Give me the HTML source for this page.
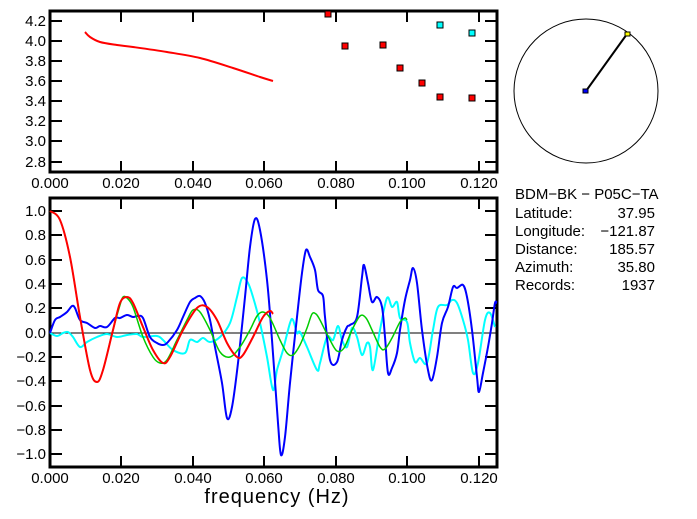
<!DOCTYPE html><html><head><style>body{margin:0;background:#fff}svg{display:block}text{font-family:"Liberation Sans",sans-serif;font-size:15px}</style></head><body>
<svg id="s" width="697" height="519" viewBox="0 0 697 519" xmlns="http://www.w3.org/2000/svg">
<g stroke="#000" stroke-width="3" fill="none">
<rect x="50" y="11" width="447" height="161"/>
<rect x="50" y="198" width="447" height="269"/>
</g>
<g stroke="#000" stroke-width="2">
<path d="M121,11v11M193,11v11M264,11v11M336,11v11M407,11v11M479,11v11M121,172v-11M193,172v-11M264,172v-11M336,172v-11M407,172v-11M479,172v-11"/>
<path d="M50,21h12M50,41h12M50,61h12M50,81h12M50,101h12M50,121h12M50,141h12M50,162h12M497,21h-12M497,41h-12M497,61h-12M497,81h-12M497,101h-12M497,121h-12M497,141h-12M497,162h-12"/>
<path d="M121,198v11M193,198v11M264,198v11M336,198v11M407,198v11M479,198v11M121,467v-11M193,467v-11M264,467v-11M336,467v-11M407,467v-11M479,467v-11"/>
<path d="M50,211h12M50,235h12M50,260h12M50,284h12M50,308h12M50,357h12M50,381h12M50,406h12M50,430h12M50,454h12M497,211h-12M497,235h-12M497,260h-12M497,284h-12M497,308h-12M497,357h-12M497,381h-12M497,406h-12M497,430h-12M497,454h-12"/>
</g>
<line x1="50" y1="333" x2="497" y2="333" stroke="#000" stroke-width="1"/>
<g text-anchor="end">
<text x="46" y="26">4.2</text><text x="46" y="46">4.0</text><text x="46" y="66">3.8</text><text x="46" y="86">3.6</text><text x="46" y="106">3.4</text><text x="46" y="126">3.2</text><text x="46" y="146">3.0</text><text x="46" y="167">2.8</text>
<text x="46" y="216">1.0</text><text x="46" y="240">0.8</text><text x="46" y="265">0.6</text><text x="46" y="289">0.4</text><text x="46" y="313">0.2</text><text x="46" y="338">0.0</text><text x="46" y="362">−0.2</text><text x="46" y="386">−0.4</text><text x="46" y="411">−0.6</text><text x="46" y="435">−0.8</text><text x="46" y="459">−1.0</text>
</g>
<g text-anchor="middle">
<text x="50" y="188">0.000</text><text x="121" y="188">0.020</text><text x="193" y="188">0.040</text><text x="264" y="188">0.060</text><text x="336" y="188">0.080</text><text x="407" y="188">0.100</text><text x="479" y="188">0.120</text>
<text x="50" y="483">0.000</text><text x="121" y="483">0.020</text><text x="193" y="483">0.040</text><text x="264" y="483">0.060</text><text x="336" y="483">0.080</text><text x="407" y="483">0.100</text><text x="479" y="483">0.120</text>
<text x="277" y="503" style="font-size:20px;letter-spacing:1px">frequency (Hz)</text>
</g>
<polyline class="sm" fill="none" stroke="#f00" stroke-width="2" points="85,32 90,37 100,42 117,45 133,47 167,52 200,58 233,68 260,77 273,81"/>
<g stroke="#000" stroke-width="1">
<g fill="#f00"><rect x="325" y="11" width="6" height="6"/><rect x="342" y="43" width="6" height="6"/><rect x="380" y="42" width="6" height="6"/><rect x="397" y="65" width="6" height="6"/><rect x="419" y="80" width="6" height="6"/><rect x="437" y="94" width="6" height="6"/><rect x="469" y="95" width="6" height="6"/></g>
<g fill="#0ff"><rect x="437" y="22" width="6" height="6"/><rect x="469" y="30" width="6" height="6"/></g>
</g>
<circle cx="586" cy="91" r="72" fill="none" stroke="#000" stroke-width="1"/>
<line x1="586" y1="91" x2="627" y2="34" stroke="#000" stroke-width="2"/>
<rect x="583" y="89" width="5" height="4" fill="#00f" stroke="#000" stroke-width="1"/>
<rect x="625" y="32" width="5" height="4" fill="#ff0" stroke="#000" stroke-width="1"/>
<g style="font-size:14px">
<text x="515" y="199">BDM−BK  −  P05C−TA</text>
<text x="515" y="218">Latitude:</text><text x="655" y="218" text-anchor="end">37.95</text>
<text x="515" y="236">Longitude:</text><text x="655" y="236" text-anchor="end">−121.87</text>
<text x="515" y="254">Distance:</text><text x="655" y="254" text-anchor="end">185.57</text>
<text x="515" y="272">Azimuth:</text><text x="655" y="272" text-anchor="end">35.80</text>
<text x="515" y="290">Records:</text><text x="655" y="290" text-anchor="end">1937</text>
</g>
<g fill="none" stroke-width="2" stroke-linejoin="round">
<polyline class="sm" stroke="#0ff" points="50,333 57,336 63,333 68,332 73,337 80,347 87,342 97,337 107,334 117,337 127,335 137,334 143,337 157,336 163,340 173,350 185,353 190,340 197,342 203,338 210,342 220,337 230,323 237,297 242,278 248,283 253,297 260,323 267,357 273,390 277,370 283,350 290,323 293,320 297,333 300,332 307,347 317,370 320,363 327,337 333,340 338,326 342,340 347,347 352,328 357,337 362,355 367,343 370,347 373,370 380,330 387,298 392,307 397,302 400,318 407,322 410,343 415,362 420,358 427,363 433,330 438,307 447,305 452,300 457,303 463,320 468,340 473,373 478,363 485,320 490,313 495,327"/>
<polyline class="sm" stroke="#00f" points="50,333 55,320 60,317 67,312 72,306 75,308 80,320 87,323 95,328 100,326 107,327 115,318 120,318 127,315 133,317 138,316 143,318 150,337 157,343 163,345 168,342 177,330 183,317 190,302 195,298 200,296 205,303 210,320 215,347 222,383 227,418 232,407 238,363 245,297 250,247 255,219 260,230 267,280 272,340 278,423 281,455 285,437 290,383 297,317 302,273 306,250 310,257 315,270 318,290 323,296 325,317 330,360 337,362 342,340 347,327 350,325 357,317 362,277 364,265 368,283 372,302 377,297 382,307 385,337 388,373 392,368 397,353 400,330 405,300 410,280 413,268 417,283 422,330 428,370 432,380 437,357 442,323 448,307 453,287 457,288 463,285 467,297 472,330 477,377 479,392 483,373 488,347 492,323 495,303 497,303"/>
<polyline class="sm" stroke="#0c0" stroke-width="1.5" points="50,211 60,220 70,257 80,317 90,370 97,382 103,370 113,330 120,305 123,297 127,298 133,307 143,337 153,357 160,363 167,360 177,340 187,320 193,310 200,312 210,330 220,352 230,357 240,347 250,330 257,316 263,312 270,318 280,340 287,353 293,355 300,345 307,328 312,314 316,314 320,320 330,340 337,351 344,348 352,330 360,316 366,318 372,330 380,347 385,349 392,338 400,322 405,318 407,320"/>
<polyline class="sm" stroke="#f00" points="50,211 60,220 70,257 80,317 90,370 97,382 103,370 113,330 120,303 127,297 133,303 143,327 153,350 163,363 170,357 183,330 197,308 207,307 217,320 227,343 237,357 243,355 253,337 263,317 270,311 273,314"/>
</g>
</svg>
<script>
document.querySelectorAll('polyline.sm').forEach(function(pl){
 var p=pl.getAttribute('points').trim().split(/\s+/).map(function(s){return s.split(',').map(Number)});
 var d='M'+p[0][0]+','+p[0][1];
 for(var i=0;i<p.length-1;i++){
  var p0=p[i-1]||p[i],p1=p[i],p2=p[i+1],p3=p[i+2]||p2;
  var c1=[p1[0]+(p2[0]-p0[0])/6,p1[1]+(p2[1]-p0[1])/6],c2=[p2[0]-(p3[0]-p1[0])/6,p2[1]-(p3[1]-p1[1])/6];
  d+=' C'+c1+' '+c2+' '+p2;
 }
 var path=document.createElementNS('http://www.w3.org/2000/svg','path');
 ['fill','stroke','stroke-width','stroke-linejoin'].forEach(function(a){var v=pl.getAttribute(a);if(v)path.setAttribute(a,v);});
 path.setAttribute('d',d);
 pl.parentNode.replaceChild(path,pl);
});
</script>
</body></html>
